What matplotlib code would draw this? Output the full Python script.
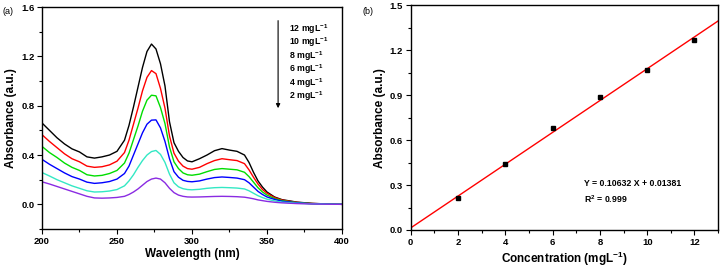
import numpy as np
import matplotlib
matplotlib.use("Agg")
import matplotlib.pyplot as plt
from matplotlib.ticker import MultipleLocator

plt.rcParams['font.family'] = ['Liberation Sans', 'DejaVu Sans']
plt.rcParams['mathtext.fontset'] = 'custom'
plt.rcParams['mathtext.rm'] = 'Liberation Sans:bold'
plt.rcParams['mathtext.it'] = 'Liberation Sans:bold'
plt.rcParams['mathtext.bf'] = 'Liberation Sans:bold'

# ---------------- data ----------------
wavelength = [200, 205, 210, 215, 220, 225, 230, 235, 240, 245, 250, 255, 258, 261, 264,
              267, 270, 273, 276, 279, 282, 285, 288, 291, 294, 297, 300, 305, 310, 315,
              320, 325, 330, 335, 338, 341, 344, 347, 350, 355, 360, 370, 380, 390, 400]

abs_12 = [0.66, 0.60, 0.54, 0.49, 0.45, 0.425, 0.385, 0.375, 0.385, 0.40, 0.43, 0.52, 0.64, 0.79, 0.95,
          1.11, 1.24, 1.30, 1.26, 1.14, 0.96, 0.67, 0.50, 0.43, 0.38, 0.352, 0.345, 0.37, 0.40, 0.435,
          0.452, 0.44, 0.43, 0.40, 0.34, 0.26, 0.19, 0.14, 0.10, 0.06, 0.038, 0.018, 0.008, 0.003, 0.0]
abs_10 = [0.565, 0.51, 0.46, 0.41, 0.37, 0.345, 0.31, 0.30, 0.305, 0.32, 0.35, 0.42, 0.52, 0.65, 0.78,
          0.92, 1.03, 1.085, 1.06, 0.94, 0.78, 0.555, 0.415, 0.35, 0.31, 0.29, 0.285, 0.30, 0.33, 0.355,
          0.37, 0.362, 0.355, 0.33, 0.28, 0.22, 0.165, 0.12, 0.09, 0.055, 0.035, 0.016, 0.007, 0.003, 0.0]
abs_8 = [0.47, 0.42, 0.38, 0.335, 0.30, 0.275, 0.24, 0.23, 0.235, 0.25, 0.275, 0.335, 0.415, 0.525, 0.635,
         0.755, 0.845, 0.885, 0.88, 0.785, 0.655, 0.465, 0.345, 0.29, 0.255, 0.24, 0.236, 0.245, 0.265, 0.283,
         0.29, 0.285, 0.28, 0.26, 0.225, 0.18, 0.135, 0.10, 0.075, 0.047, 0.03, 0.014, 0.006, 0.002, 0.0]
abs_6 = [0.365, 0.325, 0.29, 0.255, 0.225, 0.205, 0.18, 0.17, 0.175, 0.185, 0.205, 0.25, 0.31, 0.40, 0.49,
         0.58, 0.65, 0.683, 0.685, 0.62, 0.51, 0.37, 0.265, 0.22, 0.195, 0.186, 0.183, 0.19, 0.205, 0.217,
         0.222, 0.218, 0.213, 0.20, 0.175, 0.14, 0.105, 0.08, 0.06, 0.04, 0.025, 0.012, 0.005, 0.002, 0.0]
abs_4 = [0.258, 0.23, 0.20, 0.175, 0.15, 0.13, 0.11, 0.10, 0.102, 0.108, 0.12, 0.15, 0.19, 0.24, 0.30,
         0.355, 0.40, 0.428, 0.437, 0.405, 0.34, 0.245, 0.175, 0.142, 0.127, 0.12, 0.118, 0.122, 0.13, 0.135,
         0.137, 0.135, 0.132, 0.125, 0.11, 0.09, 0.07, 0.055, 0.042, 0.028, 0.018, 0.009, 0.004, 0.001, 0.0]
abs_2 = [0.183, 0.165, 0.145, 0.125, 0.105, 0.085, 0.065, 0.052, 0.05, 0.052, 0.056, 0.065, 0.08, 0.10, 0.125,
         0.155, 0.185, 0.205, 0.213, 0.205, 0.175, 0.13, 0.095, 0.075, 0.065, 0.06, 0.059, 0.06, 0.062, 0.064,
         0.065, 0.064, 0.062, 0.058, 0.052, 0.045, 0.036, 0.03, 0.024, 0.017, 0.012, 0.006, 0.003, 0.001, 0.0]

series_labels = ['12 mgL$^{-1}$', '10 mgL$^{-1}$', '8 mgL$^{-1}$',
                 '6 mgL$^{-1}$', '4 mgL$^{-1}$', '2 mgL$^{-1}$']
series_colors = ['#000000', '#ff0000', '#00dd00', '#0000ff', '#33e8c4', '#8a2be2']
spectra = [abs_12, abs_10, abs_8, abs_6, abs_4, abs_2]

conc = [2, 4, 6, 8, 10, 12]
conc_abs = [0.211, 0.44, 0.684, 0.887, 1.071, 1.267]
slope = 0.10632
intercept = 0.01381
fit_x = [0, 13]

# ---------------- figure ----------------
fig = plt.figure(figsize=(7.2, 2.69), dpi=100)
ax1 = fig.add_axes([0.0583, 0.1487, 0.4167, 0.825])
ax2 = fig.add_axes([0.5704, 0.145, 0.427, 0.835])

tick_fs = 6.8
lab_fs = 8.5

def style(ax):
    for s in ax.spines.values():
        s.set_linewidth(1.0)
    ax.tick_params(which='major', direction='out', length=3.5, width=0.8, labelsize=tick_fs, pad=2)
    ax.tick_params(which='minor', direction='out', length=2, width=0.8)
    for t in ax.get_xticklabels() + ax.get_yticklabels():
        t.set_fontweight('bold')

# panel a
for y, c in zip(spectra, series_colors):
    ax1.plot(wavelength, y, color=c, lw=1.0)
ax1.set_xlim(200, 400)
ax1.set_ylim(-0.2, 1.6)
ax1.xaxis.set_major_locator(MultipleLocator(50))
ax1.xaxis.set_minor_locator(MultipleLocator(25))
ax1.yaxis.set_minor_locator(MultipleLocator(0.2))
ax1.set_yticks([0.0, 0.4, 0.8, 1.2, 1.6])
ax1.set_xlabel('Wavelength (nm)', fontsize=lab_fs, fontweight='bold', labelpad=2)
ax1.set_ylabel('Absorbance (a.u.)', fontsize=lab_fs, fontweight='bold', labelpad=3)
style(ax1)

ax1.annotate('', xy=(357.4, 0.78), xytext=(357.4, 1.49),
             arrowprops=dict(arrowstyle='-|>', color='black', lw=0.8,
                             mutation_scale=6, shrinkA=0, shrinkB=0))
text_y = [1.425, 1.315, 1.205, 1.095, 0.985, 0.875]
for lbl, ty in zip(series_labels, text_y):
    ax1.text(364.5, ty, lbl, fontsize=6.3, fontweight='bold', va='center', ha='left')

fig.text(0.003, 0.975, '(a)', fontsize=6.5, va='top', ha='left')

# panel b
ax2.plot(fit_x, [slope * x + intercept for x in fit_x], color='red', lw=1.0)
ax2.plot(conc, conc_abs, 's', color='black', markersize=3.5)
ax2.set_xlim(0, 13)
ax2.set_ylim(0, 1.5)
ax2.xaxis.set_major_locator(MultipleLocator(2))
ax2.xaxis.set_minor_locator(MultipleLocator(1))
ax2.yaxis.set_major_locator(MultipleLocator(0.3))
ax2.yaxis.set_minor_locator(MultipleLocator(0.15))
ax2.set_xlabel('Concentration (mgL$^{-1}$)', fontsize=lab_fs, fontweight='bold', labelpad=2)
ax2.set_ylabel('Absorbance (a.u.)', fontsize=lab_fs, fontweight='bold', labelpad=3)
style(ax2)
ax2.text(7.34, 0.311, 'Y = 0.10632 X + 0.01381', fontsize=6.3, fontweight='bold', va='center')
ax2.text(7.34, 0.204, 'R$^2$ = 0.999', fontsize=6.3, fontweight='bold', va='center')

fig.text(0.503, 0.975, '(b)', fontsize=6.5, va='top', ha='left')

fig.savefig('out.png', dpi=100)
